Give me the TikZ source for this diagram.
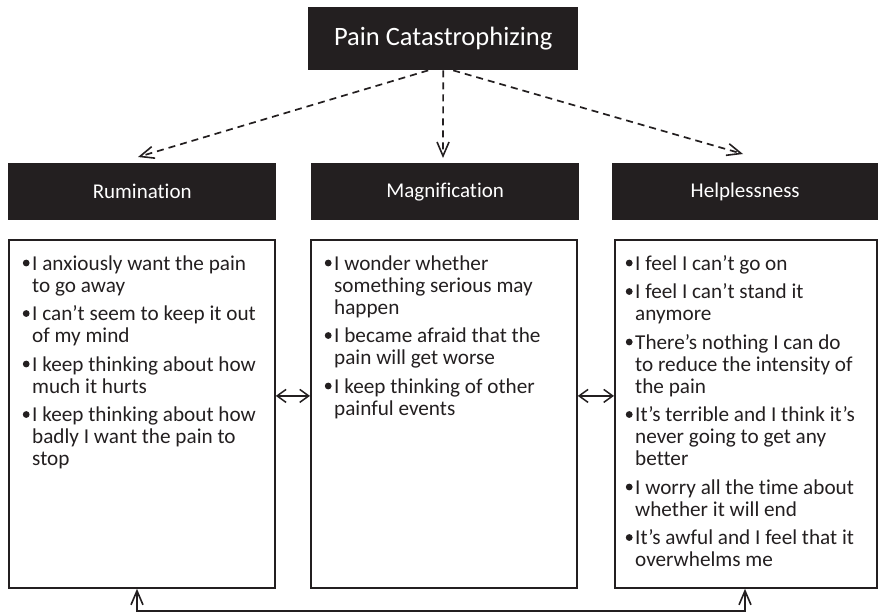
\documentclass[tikz,border=0pt]{standalone}
\usepackage{fontspec}
\setmainfont{Carlito}[Ligatures={NoCommon}]
\usetikzlibrary{arrows.meta}
\definecolor{ink}{HTML}{231F20}
\newcommand\bul{\llap{\tikz[baseline=0pt]\fill[ink] (0pt,7pt) circle[radius=3.4pt];\hspace{2.6pt}}}
\newcommand\itm{\par\noindent\bul}
\newcommand\lstart{\fontsize{21.2}{22}\selectfont\raggedright\leftskip=24pt\parskip=6.5pt\relax}
\tikzset{
  darkbox/.style={fill=ink, text=white, inner sep=0pt, anchor=north west},
  listbox/.style={draw=ink, line width=1.8pt, inner sep=0pt, anchor=north west, minimum height=348pt},
  listtext/.style={anchor=base west, inner sep=0pt, text=ink},
  barb/.tip={Straight Barb[length=14pt,width=12pt,line width=1.6pt]},
  smallbarb/.tip={Straight Barb[length=9pt,width=13pt,line width=1.5pt]},
  dasharrow/.style={draw=ink, line width=1.7pt, dash pattern=on 7pt off 5pt, -barb},
  sidearrow/.style={draw=ink, line width=1.6pt, smallbarb-smallbarb},
  bottomarrow/.style={draw=ink, line width=2pt, barb-barb},
}
\begin{document}
\begin{tikzpicture}[x=1pt,y=-1pt]
\useasboundingbox (0,0) rectangle (878,614);
% title
\node[darkbox, minimum width=270pt, minimum height=63pt, font=\fontsize{26.5}{30}\selectfont] (pc) at (308,7) {Pain Catastrophizing};
% headers
\node[darkbox, minimum width=268pt, minimum height=57pt, font=\fontsize{21}{24}\selectfont] (rum) at (8,163) {Rumination};
\node[darkbox, minimum width=268pt, minimum height=57pt, font=\fontsize{21}{24}\selectfont] (mag) at (311,163) {Magnification};
\node[darkbox, minimum width=266pt, minimum height=57pt, font=\fontsize{21}{24}\selectfont] (help) at (612,163) {Helplessness};
% boxes
\node[listbox, minimum width=266pt] (rumbox) at (8,239) {};
\node[listbox, minimum width=266pt] (magbox) at (310,239) {};
\node[listbox, minimum width=262pt] (helpbox) at (614,239) {};
% texts
\node[listtext] (rumtxt) at (8,270) {\begin{minipage}[t]{262pt}\lstart
\noindent\bul I anxiously want the pain\\to go away
\itm I can’t seem to keep it out\\of my mind
\itm I keep thinking about how\\much it hurts
\itm I keep thinking about how\\badly I want the pain to\\stop\par
\end{minipage}};
\node[listtext] (magtxt) at (310,270) {\begin{minipage}[t]{262pt}\lstart
\noindent\bul I wonder whether\\something serious may\\happen
\itm I became afraid that the\\pain will get worse
\itm I keep thinking of other\\painful events\par
\end{minipage}};
\node[listtext] (helptxt) at (611,270) {\begin{minipage}[t]{262pt}\lstart
\noindent\bul I feel I can’t go on
\itm I feel I can’t stand it\\anymore
\itm There’s nothing I can do\\to reduce the intensity of\\the pain
\itm It’s terrible and I think it’s\\never going to get any\\better
\itm I worry all the time about\\whether it will end
\itm It’s awful and I feel that it\\overwhelms me\par
\end{minipage}};
% dashed arrows
\coordinate (rumtip) at (138,157);
\coordinate (magtip) at (443,158);
\coordinate (helptip) at (743,154);
\draw[dasharrow] ([xshift=-15pt]pc.south) -- (rumtip);
\draw[dasharrow] (pc.south) -- (magtip);
\draw[dasharrow] ([xshift=10pt]pc.south) -- (helptip);
% side arrows
\draw[sidearrow] ([yshift=18pt]rumbox.east) -- ([yshift=18pt]magbox.west);
\draw[sidearrow] ([yshift=18pt]magbox.east) -- ([yshift=18pt]helpbox.west);
% bottom arrow
\coordinate (lowL) at (137,611);
\coordinate (lowR) at (745,611);
\draw[bottomarrow] (lowL |- rumbox.south) -- (lowL) -- (lowR) -- (lowR |- helpbox.south);
\end{tikzpicture}
\end{document}
